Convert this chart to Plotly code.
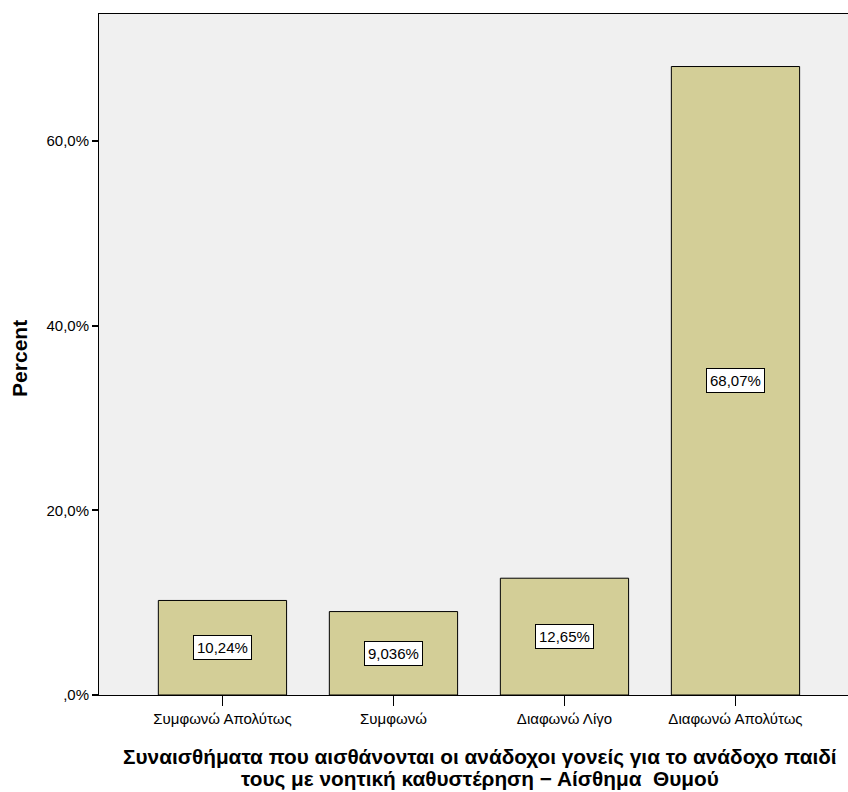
import plotly.graph_objects as go

categories = ["Συμφωνώ Απολύτως", "Συμφωνώ", "Διαφωνώ Λίγο", "Διαφωνώ Απολύτως"]
percent = [10.24, 9.036, 12.65, 68.07]
value_labels = ["10,24%", "9,036%", "12,65%", "68,07%"]
y_tickvals = [0, 20, 40, 60]
y_ticktext = [",0%", "20,0%", "40,0%", "60,0%"]
x_title_lines = [
    "Συναισθήματα που αισθάνονται οι ανάδοχοι γονείς για το ανάδοχο παιδί",
    "τους με νοητική καθυστέρηση − Αίσθημα  Θυμού",
]
y_title = "Percent"

FONT = "Liberation Sans, Arial, sans-serif"

fig = go.Figure()
fig.add_trace(go.Bar(
    x=list(range(len(categories))),
    y=percent,
    marker=dict(color="#d3ce97", line=dict(color="#000000", width=1)),
    width=0.75,
    hoverinfo="skip",
))

for i, (v, lab) in enumerate(zip(percent, value_labels)):
    fig.add_annotation(
        x=i, y=v / 2, text=lab, showarrow=False,
        font=dict(family=FONT, size=15, color="#000000"),
        bgcolor="#ffffff", bordercolor="#000000", borderwidth=1, borderpad=3,
        xref="x", yref="y",
    )

# axis titles as annotations
for line, ypos in zip(x_title_lines, [-0.0910, -0.1233]):
    fig.add_annotation(
        xref="paper", yref="paper", x=0.509, y=ypos,
        xanchor="center", yanchor="middle", showarrow=False,
        text=f"<b>{line}</b>",
        font=dict(family=FONT, size=20.8, color="#000000"),
    )
fig.add_annotation(
    xref="paper", yref="paper", x=-0.1055, y=0.495,
    xanchor="center", yanchor="middle", showarrow=False, textangle=-90,
    text=f"<b>{y_title}</b>",
    font=dict(family=FONT, size=21, color="#000000"),
)

fig.update_layout(
    width=848, height=792,
    margin=dict(l=99, r=0, t=14, b=97),
    paper_bgcolor="#ffffff",
    plot_bgcolor="#f0f0f0",
    showlegend=False,
    font=dict(family=FONT, size=15, color="#000000"),
)

fig.update_xaxes(
    range=[-0.722, 3.658],
    tickvals=list(range(len(categories))),
    ticktext=categories,
    ticks="outside", ticklen=10, tickwidth=1, tickcolor="#000000",
    showline=True, linecolor="#000000", linewidth=1, mirror=True,
    showgrid=False, zeroline=False,
    tickfont=dict(family=FONT, size=15),
)

fig.update_yaxes(
    range=[0, 73.76],
    tickvals=y_tickvals,
    ticktext=y_ticktext,
    ticks="outside", ticklen=6, tickwidth=2, tickcolor="#000000",
    showline=True, linecolor="#000000", linewidth=1,
    showgrid=False, zeroline=False,
    tickfont=dict(family=FONT, size=15),
)

fig.write_html(
    "out.html",
    config={"displayModeBar": False},
    post_script="document.body.style.margin='0';document.body.style.overflow='hidden';",
)
